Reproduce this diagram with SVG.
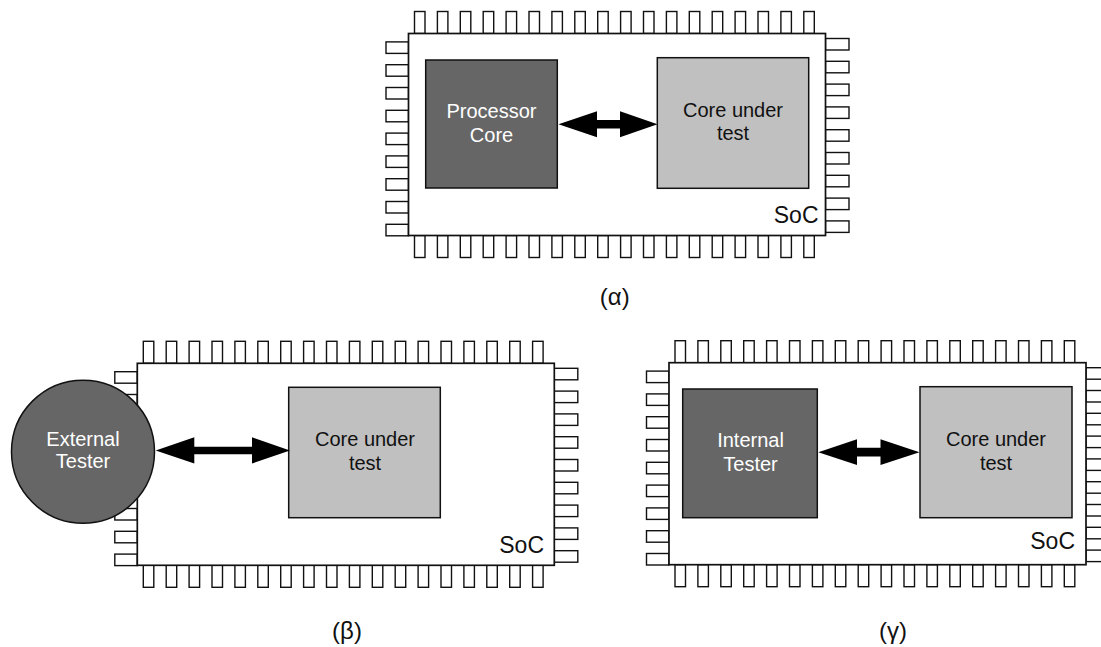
<svg xmlns="http://www.w3.org/2000/svg" xmlns:xlink="http://www.w3.org/1999/xlink" width="1101" height="647" viewBox="0 0 1101 647">
  <style>
    .pin { fill: #ffffff; stroke: #111111; stroke-width: 1.4; }
    .chip { fill: #ffffff; stroke: #111111; stroke-width: 1.7; }
    .dark { fill: #666666; stroke: #111111; stroke-width: 1.5; }
    .light { fill: #c0c0c0; stroke: #111111; stroke-width: 1.5; }
    .arrow { fill: #000000; stroke: none; }
    text { font-family: "Liberation Sans", Arial, sans-serif; }
    .lbl { font-size: 20px; text-anchor: middle; }
    .lbl-w { fill: #ffffff; }
    .lbl-b { fill: #111111; }
    .soc { font-size: 23px; text-anchor: end; fill: #111111; }
    .cap { font-size: 24px; text-anchor: middle; fill: #111111; }
  </style>
  <defs>
    <!-- package pins around a 417 x 202 die body, origin at the body's top-left corner -->
    <g id="pins">
      <!-- top row -->
      <rect class="pin" x="6" y="-22" width="10.5" height="22"/>
      <rect class="pin" x="28.9" y="-22" width="10.5" height="22"/>
      <rect class="pin" x="51.8" y="-22" width="10.5" height="22"/>
      <rect class="pin" x="74.7" y="-22" width="10.5" height="22"/>
      <rect class="pin" x="97.6" y="-22" width="10.5" height="22"/>
      <rect class="pin" x="120.5" y="-22" width="10.5" height="22"/>
      <rect class="pin" x="143.4" y="-22" width="10.5" height="22"/>
      <rect class="pin" x="166.3" y="-22" width="10.5" height="22"/>
      <rect class="pin" x="189.2" y="-22" width="10.5" height="22"/>
      <rect class="pin" x="212.1" y="-22" width="10.5" height="22"/>
      <rect class="pin" x="235" y="-22" width="10.5" height="22"/>
      <rect class="pin" x="257.9" y="-22" width="10.5" height="22"/>
      <rect class="pin" x="280.8" y="-22" width="10.5" height="22"/>
      <rect class="pin" x="303.7" y="-22" width="10.5" height="22"/>
      <rect class="pin" x="326.6" y="-22" width="10.5" height="22"/>
      <rect class="pin" x="349.5" y="-22" width="10.5" height="22"/>
      <rect class="pin" x="372.4" y="-22" width="10.5" height="22"/>
      <rect class="pin" x="395.3" y="-22" width="10.5" height="22"/>
      <!-- bottom row -->
      <rect class="pin" x="6" y="202" width="10.5" height="22"/>
      <rect class="pin" x="28.9" y="202" width="10.5" height="22"/>
      <rect class="pin" x="51.8" y="202" width="10.5" height="22"/>
      <rect class="pin" x="74.7" y="202" width="10.5" height="22"/>
      <rect class="pin" x="97.6" y="202" width="10.5" height="22"/>
      <rect class="pin" x="120.5" y="202" width="10.5" height="22"/>
      <rect class="pin" x="143.4" y="202" width="10.5" height="22"/>
      <rect class="pin" x="166.3" y="202" width="10.5" height="22"/>
      <rect class="pin" x="189.2" y="202" width="10.5" height="22"/>
      <rect class="pin" x="212.1" y="202" width="10.5" height="22"/>
      <rect class="pin" x="235" y="202" width="10.5" height="22"/>
      <rect class="pin" x="257.9" y="202" width="10.5" height="22"/>
      <rect class="pin" x="280.8" y="202" width="10.5" height="22"/>
      <rect class="pin" x="303.7" y="202" width="10.5" height="22"/>
      <rect class="pin" x="326.6" y="202" width="10.5" height="22"/>
      <rect class="pin" x="349.5" y="202" width="10.5" height="22"/>
      <rect class="pin" x="372.4" y="202" width="10.5" height="22"/>
      <rect class="pin" x="395.3" y="202" width="10.5" height="22"/>
      <!-- left column -->
      <rect class="pin" x="-22.5" y="8.4" width="22.5" height="11.5"/>
      <rect class="pin" x="-22.5" y="31.2" width="22.5" height="11.5"/>
      <rect class="pin" x="-22.5" y="54" width="22.5" height="11.5"/>
      <rect class="pin" x="-22.5" y="76.8" width="22.5" height="11.5"/>
      <rect class="pin" x="-22.5" y="99.6" width="22.5" height="11.5"/>
      <rect class="pin" x="-22.5" y="122.4" width="22.5" height="11.5"/>
      <rect class="pin" x="-22.5" y="145.2" width="22.5" height="11.5"/>
      <rect class="pin" x="-22.5" y="168" width="22.5" height="11.5"/>
      <rect class="pin" x="-22.5" y="190.8" width="22.5" height="11.5"/>
      <!-- right column -->
      <rect class="pin" x="417" y="5" width="23.5" height="11.5"/>
      <rect class="pin" x="417" y="27.8" width="23.5" height="11.5"/>
      <rect class="pin" x="417" y="50.6" width="23.5" height="11.5"/>
      <rect class="pin" x="417" y="73.4" width="23.5" height="11.5"/>
      <rect class="pin" x="417" y="96.2" width="23.5" height="11.5"/>
      <rect class="pin" x="417" y="119" width="23.5" height="11.5"/>
      <rect class="pin" x="417" y="141.8" width="23.5" height="11.5"/>
      <rect class="pin" x="417" y="164.6" width="23.5" height="11.5"/>
      <rect class="pin" x="417" y="187.4" width="23.5" height="11.5"/>
    </g>
  </defs>

  <rect x="0" y="0" width="1101" height="647" fill="#ffffff"/>

  <!-- (α) processor core tests a core -->
  <g id="soc-a">
    <use href="#pins" xlink:href="#pins" transform="translate(408.5,33.5)"/>
    <rect class="chip" x="408.5" y="33.5" width="417" height="202"/>
    <text class="soc" x="818.5" y="223.3">SoC</text>
  </g>
  <g id="processor-core">
    <rect class="dark" x="425.7" y="60" width="131.6" height="128"/>
    <text class="lbl lbl-w" x="491.5" y="118">Processor</text>
    <text class="lbl lbl-w" x="491.5" y="141.7">Core</text>
  </g>
  <g id="core-under-test-a">
    <rect class="light" x="657.3" y="57.7" width="151.4" height="130.6"/>
    <text class="lbl lbl-b" x="733" y="116.7">Core under</text>
    <text class="lbl lbl-b" x="733" y="140">test</text>
  </g>
  <text class="cap" x="614.7" y="305">(α)</text>

  <!-- (β) external tester -->
  <g id="soc-b">
    <use href="#pins" xlink:href="#pins" transform="translate(137.3,363.3)"/>
    <rect class="chip" x="137.3" y="363.3" width="417" height="202"/>
    <text class="soc" x="544" y="553.3">SoC</text>
  </g>
  <g id="external-tester">
    <circle class="dark" cx="83" cy="451.7" r="71.5"/>
    <text class="lbl lbl-w" x="83" y="446">External</text>
    <text class="lbl lbl-w" x="83" y="468.3">Tester</text>
  </g>
  <g id="core-under-test-b">
    <rect class="light" x="288.7" y="387.3" width="151.6" height="130.4"/>
    <text class="lbl lbl-b" x="365" y="446">Core under</text>
    <text class="lbl lbl-b" x="365" y="470">test</text>
  </g>
  <text class="cap" x="347" y="639">(β)</text>

  <!-- (γ) internal tester -->
  <g id="soc-c">
    <use href="#pins" xlink:href="#pins" transform="translate(669,362.7)"/>
    <rect class="chip" x="669" y="362.7" width="417" height="202"/>
    <text class="soc" x="1075" y="549">SoC</text>
  </g>
  <g id="internal-tester">
    <rect class="dark" x="682.7" y="389" width="134.6" height="128.7"/>
    <text class="lbl lbl-w" x="750.5" y="446.7">Internal</text>
    <text class="lbl lbl-w" x="750.5" y="470.7">Tester</text>
  </g>
  <g id="core-under-test-c">
    <rect class="light" x="920" y="386.7" width="152" height="131"/>
    <text class="lbl lbl-b" x="996" y="445.7">Core under</text>
    <text class="lbl lbl-b" x="996" y="470">test</text>
  </g>
  <text class="cap" x="893" y="639">(γ)</text>

  <!-- bidirectional links -->
  <g id="connectors">
    <polygon class="arrow" points="558.5,124.2 597,111.2 597,120 620,120 620,111.2 657.5,124.2 620,137.2 620,128.4 597,128.4 597,137.2"/>
    <polygon class="arrow" points="155.7,450.5 194.3,437.3 194.3,446.7 252,446.7 252,437.3 290,450.5 252,463.5 252,454.3 194.3,454.3 194.3,463.5"/>
    <polygon class="arrow" points="818.3,452.2 857,439.3 857,447.8 880.5,447.8 880.5,439.3 919.5,452.2 880.5,465 880.5,456.6 857,456.6 857,465"/>
  </g>
</svg>
